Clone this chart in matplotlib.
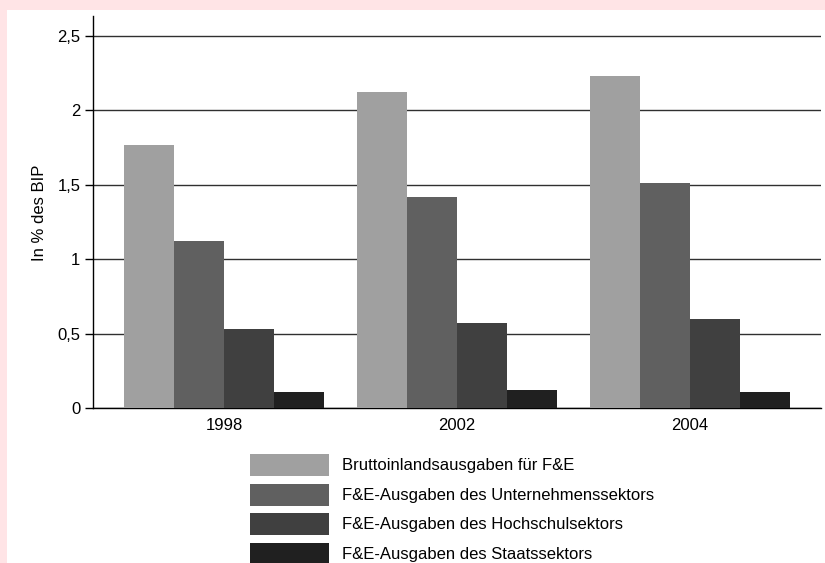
import matplotlib
matplotlib.use("Agg")
import matplotlib.pyplot as plt
import numpy as np
from matplotlib.patches import Rectangle

years = ["1998", "2002", "2004"]
series_labels = [
    "Bruttoinlandsausgaben für F&E",
    "F&E-Ausgaben des Unternehmenssektors",
    "F&E-Ausgaben des Hochschulsektors",
    "F&E-Ausgaben des Staatssektors",
]
brutto = [1.77, 2.12, 2.23]
unternehmen = [1.12, 1.42, 1.51]
hochschule = [0.53, 0.57, 0.60]
staat = [0.11, 0.12, 0.11]
colors = ["#a0a0a0", "#606060", "#404040", "#202020"]
yticks = [0, 0.5, 1, 1.5, 2, 2.5]

plt.rcParams["font.family"] = ["Liberation Sans", "DejaVu Sans"]

fig = plt.figure(figsize=(8.25, 5.63), dpi=100)
fig.patch.set_facecolor("#ffe4e6")
fig.add_artist(Rectangle((7 / 825, 0), 1, 553 / 563, transform=fig.transFigure,
                         facecolor="white", edgecolor="none", zorder=0))

ax = fig.add_axes([93 / 825, 155 / 563, 728 / 825, 392 / 563])
ax.set_facecolor("white")

x = np.arange(len(years))
w = 0.2146
for i, vals in enumerate([brutto, unternehmen, hochschule, staat]):
    ax.bar(x + (i - 1.5) * w, vals, width=w, color=colors[i],
           label=series_labels[i], zorder=3)

ax.set_xlim(-0.562, 2.562)
ax.set_ylim(0, 2.634)
ax.set_xticks(x)
ax.set_xticklabels(years, fontsize=12)
ax.tick_params(axis="x", length=0, pad=7)
ax.set_yticks(yticks)
ax.set_yticklabels([("%g" % v).replace(".", ",") for v in yticks], fontsize=12)
ax.tick_params(axis="y", length=6, width=1, pad=3)
ax.yaxis.grid(True, color="#303030", linewidth=1, zorder=1)
ax.set_axisbelow(True)
for s in ["top", "right"]:
    ax.spines[s].set_visible(False)
ax.spines["left"].set_linewidth(1)
ax.spines["bottom"].set_linewidth(1)

fig.text(40 / 825, 1 - 213 / 563, "In % des BIP", rotation=90,
         ha="center", va="center", fontsize=12)

ax.legend(loc="upper left", bbox_to_anchor=(250 / 825, 1 - 454 / 563),
          bbox_transform=fig.transFigure, frameon=False, fontsize=12,
          handlelength=4.74, handleheight=1.654, handletextpad=0.78,
          labelspacing=0.45, borderpad=0, borderaxespad=0)

fig.savefig("out.png", dpi=100, facecolor=fig.get_facecolor())
